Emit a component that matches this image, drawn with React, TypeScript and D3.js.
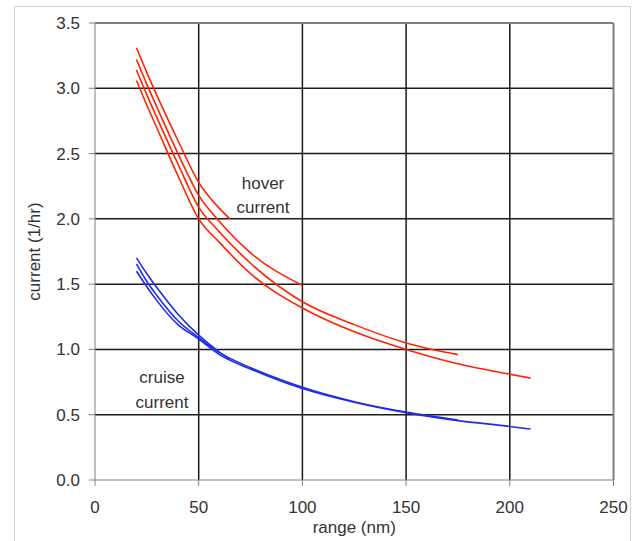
import React from "react";
import * as d3 from "d3";

// x ticks / y ticks
const xTicks = [0, 50, 100, 150, 200, 250];
const yTicks = [0, 0.5, 1, 1.5, 2, 2.5, 3, 3.5];

// hover current curves (range nm, current 1/hr)
const hoverA: [number, number][] = [[20, 3.31], [25, 3.12], [30, 2.94], [40, 2.6], [50, 2.28], [60, 2.08], [65, 2.0]];
const hoverB: [number, number][] = [[20, 3.22], [25, 3.03], [30, 2.85], [40, 2.5], [50, 2.18], [60, 1.98], [75, 1.74], [100, 1.49]];
const hoverC: [number, number][] = [[20, 3.14], [25, 2.95], [30, 2.77], [40, 2.42], [50, 2.09], [60, 1.9], [75, 1.66], [100, 1.365], [125, 1.19], [150, 1.05], [175, 0.96]];
const hoverD: [number, number][] = [[20, 3.06], [25, 2.87], [30, 2.69], [40, 2.33], [50, 2.0], [60, 1.82], [75, 1.58], [100, 1.317], [125, 1.135], [150, 1.0], [175, 0.89], [200, 0.81], [210, 0.78]];

// cruise current curves
const cruiseA: [number, number][] = [[20, 1.7], [25, 1.58], [30, 1.47], [40, 1.27], [50, 1.11], [60, 0.98], [65, 0.925]];
const cruiseB: [number, number][] = [[20, 1.655], [25, 1.52], [30, 1.41], [40, 1.22], [50, 1.09], [60, 0.975], [75, 0.86], [100, 0.71], [125, 0.6], [150, 0.52], [175, 0.46]];
const cruiseC: [number, number][] = [[20, 1.6], [25, 1.48], [30, 1.37], [40, 1.19], [50, 1.08], [60, 0.96], [75, 0.85], [100, 0.7], [125, 0.595], [150, 0.515], [175, 0.455], [200, 0.41], [210, 0.39]];

const hoverSeries = [hoverA, hoverB, hoverC, hoverD];
const cruiseSeries = [cruiseA, cruiseB, cruiseC];

const W = 639;
const H = 541;
const left = 95;
const right = 613.5;
const top = 23;
const bottom = 480;

export default function App() {
  const x = d3.scaleLinear().domain([0, 250]).range([left, right]);
  const y = d3.scaleLinear().domain([0, 3.5]).range([bottom, top]);
  const line = d3
    .line<[number, number]>()
    .x((d) => x(d[0]))
    .y((d) => y(d[1]))
    .curve(d3.curveMonotoneX);
  const font = "'Liberation Sans', Arial, sans-serif";
  const textColor = "#333333";
  const fs = 17;

  return (
    <svg
      width={W}
      height={H}
      style={{ position: "absolute", left: 0, top: 0, background: "#fff" }}
      fontFamily={font}
    >
      <rect x={14.5} y={6.5} width={616} height={560} fill="#fff" stroke="#cfcfcf" strokeWidth={1} />

      {/* gridlines */}
      {yTicks.filter((t) => t > 0 && t < 3.5).map((t) => (
        <line key={"gy" + t} x1={left} x2={right} y1={y(t)} y2={y(t)} stroke="#1a1a1a" strokeWidth={1.5} />
      ))}
      {xTicks.filter((t) => t > 0 && t < 250).map((t) => (
        <line key={"gx" + t} x1={x(t)} x2={x(t)} y1={top} y2={bottom} stroke="#1a1a1a" strokeWidth={1.5} />
      ))}

      {/* plot frame */}
      <line x1={left} x2={right} y1={top} y2={top} stroke="#808080" strokeWidth={2} />
      <line x1={right} x2={right} y1={top} y2={bottom} stroke="#808080" strokeWidth={2} />
      <line x1={left} x2={left} y1={top} y2={bottom} stroke="#808080" strokeWidth={1} />
      <line x1={left} x2={right} y1={bottom} y2={bottom} stroke="#808080" strokeWidth={1} />

      {/* ticks */}
      {yTicks.map((t) => (
        <g key={"ty" + t}>
          <line x1={left - 6} x2={left} y1={y(t)} y2={y(t)} stroke="#808080" strokeWidth={1} />
          <text x={left - 15} y={y(t)} dy="0.35em" textAnchor="end" fontSize={fs} fill={textColor}>
            {d3.format(".1f")(t)}
          </text>
        </g>
      ))}
      {xTicks.map((t) => (
        <g key={"tx" + t}>
          <line x1={x(t)} x2={x(t)} y1={bottom} y2={bottom + 6} stroke="#808080" strokeWidth={1} />
          <text x={x(t)} y={bottom + 33} textAnchor="middle" fontSize={fs} fill={textColor}>
            {t}
          </text>
        </g>
      ))}

      {/* axis titles */}
      <text x={(left + right) / 2} y={533} textAnchor="middle" fontSize={fs} fill={textColor}>
        range (nm)
      </text>
      <text
        transform={`translate(40, ${(top + bottom) / 2}) rotate(-90)`}
        textAnchor="middle"
        fontSize={fs}
        fill={textColor}
      >
        current (1/hr)
      </text>

      {/* curves */}
      {hoverSeries.map((s, i) => (
        <path key={"h" + i} d={line(s) || ""} fill="none" stroke="#ff2200" strokeWidth={1.6} />
      ))}
      {cruiseSeries.map((s, i) => (
        <path key={"c" + i} d={line(s) || ""} fill="none" stroke="#1f2ee6" strokeWidth={1.6} />
      ))}

      {/* annotations */}
      <text x={263} y={189} textAnchor="middle" fontSize={fs} fill={textColor}>hover</text>
      <text x={263} y={213} textAnchor="middle" fontSize={fs} fill={textColor}>current</text>
      <text x={162} y={383} textAnchor="middle" fontSize={fs} fill={textColor}>cruise</text>
      <text x={162} y={408} textAnchor="middle" fontSize={fs} fill={textColor}>current</text>
    </svg>
  );
}
